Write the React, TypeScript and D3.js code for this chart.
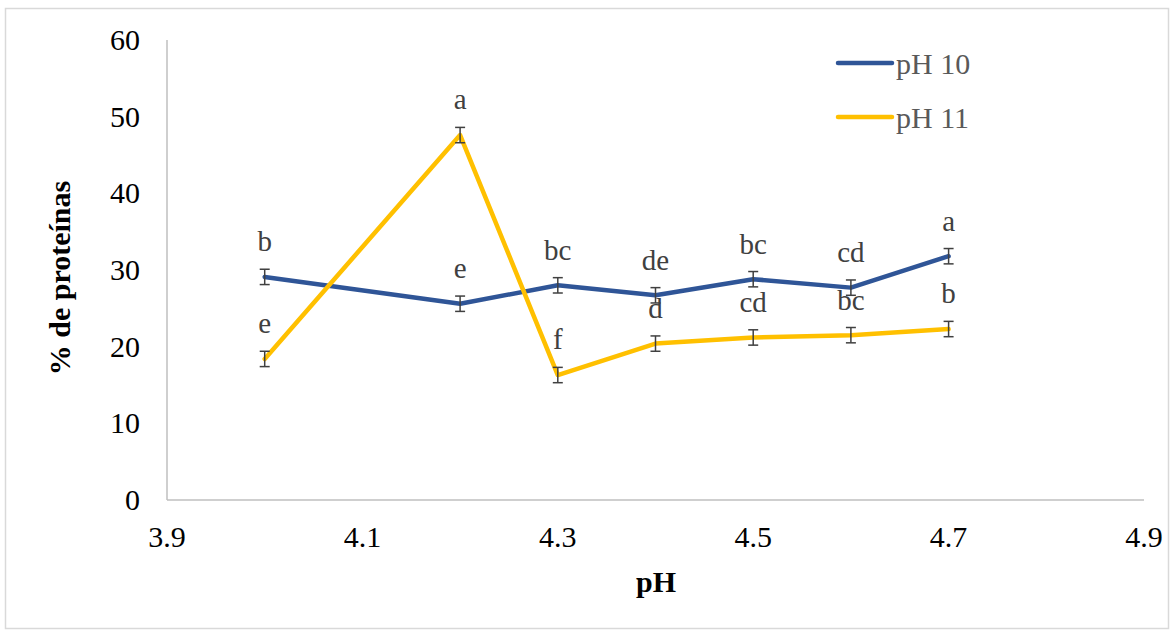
import React, { useRef, useEffect } from "react";
import * as d3 from "d3";

const phValues = [4.0, 4.2, 4.3, 4.4, 4.5, 4.6, 4.7];
const ph10 = [29.1, 25.6, 28.0, 26.7, 28.8, 27.7, 31.8];
const ph10Err = [1.0, 1.0, 1.0, 1.0, 1.0, 1.0, 1.0];
const ph10Letters = ["b", "e", "bc", "de", "bc", "cd", "a"];
const ph11 = [18.4, 47.6, 16.3, 20.4, 21.2, 21.5, 22.3];
const ph11Err = [1.0, 1.0, 1.0, 1.0, 1.0, 1.0, 1.0];
const ph11Letters = ["e", "a", "f", "d", "cd", "bc", "b"];
const xTicks = [3.9, 4.1, 4.3, 4.5, 4.7, 4.9];
const yTicks = [0, 10, 20, 30, 40, 50, 60];
const seriesNames = ["pH 10", "pH 11"];

const W = 1174;
const H = 632;
const layout = { left: 167, right: 1144, top: 40, bottom: 500 };
const colors = ["#2F5597", "#FFC000"];
const font = "'Liberation Serif', 'Times New Roman', serif";

export default function App() {
  const ref = useRef<SVGSVGElement>(null);

  useEffect(() => {
    const svg = d3.select(ref.current);
    svg.selectAll("*").remove();

    const x = d3.scaleLinear().domain([3.9, 4.9]).range([layout.left, layout.right]);
    const y = d3.scaleLinear().domain([0, 60]).range([layout.bottom, layout.top]);

    // outer frame
    svg.append("rect")
      .attr("x", 5.5).attr("y", 8.5)
      .attr("width", 1163).attr("height", 620)
      .attr("fill", "white").attr("stroke", "#d9d9d9").attr("stroke-width", 1.5);

    // axes
    svg.append("line")
      .attr("x1", layout.left).attr("x2", layout.left)
      .attr("y1", layout.top).attr("y2", layout.bottom)
      .attr("stroke", "#bfbfbf").attr("stroke-width", 1.5);
    svg.append("line")
      .attr("x1", layout.left).attr("x2", layout.right)
      .attr("y1", layout.bottom).attr("y2", layout.bottom)
      .attr("stroke", "#bfbfbf").attr("stroke-width", 1.5);

    svg.selectAll(".ytick")
      .data(yTicks)
      .join("text")
      .attr("class", "ytick")
      .attr("x", 140)
      .attr("y", d => y(d) + 10)
      .attr("text-anchor", "end")
      .attr("font-family", font).attr("font-size", 30)
      .attr("fill", "#000")
      .text(d => d);

    svg.selectAll(".xtick")
      .data(xTicks)
      .join("text")
      .attr("class", "xtick")
      .attr("x", d => x(d))
      .attr("y", 547)
      .attr("text-anchor", "middle")
      .attr("font-family", font).attr("font-size", 30)
      .attr("fill", "#000")
      .text(d => d.toFixed(1));

    svg.append("text")
      .attr("transform", "translate(70,278) rotate(-90)")
      .attr("text-anchor", "middle")
      .attr("font-family", font).attr("font-size", 30).attr("font-weight", "bold")
      .text("% de proteínas");

    svg.append("text")
      .attr("x", 656).attr("y", 592)
      .attr("text-anchor", "middle")
      .attr("font-family", font).attr("font-size", 30).attr("font-weight", "bold")
      .text("pH");

    const series = [
      { vals: ph10, err: ph10Err, letters: ph10Letters },
      { vals: ph11, err: ph11Err, letters: ph11Letters },
    ];

    const line = d3.line<number>()
      .x((d, i) => x(phValues[i]))
      .y(d => y(d));

    series.forEach((s, si) => {
      const g = svg.append("g");
      const pts = s.vals.map((v, i) => ({ x: phValues[i], v, e: s.err[i], l: s.letters[i] }));

      g.append("path")
        .datum(s.vals)
        .attr("d", line)
        .attr("fill", "none")
        .attr("stroke", colors[si])
        .attr("stroke-width", 4.5)
        .attr("stroke-linejoin", "round")
        .attr("stroke-linecap", "round");

      const eb = g.selectAll(".eb").data(pts).join("g").attr("class", "eb");
      eb.append("line")
        .attr("x1", d => x(d.x)).attr("x2", d => x(d.x))
        .attr("y1", d => y(d.v - d.e)).attr("y2", d => y(d.v + d.e))
        .attr("stroke", "#404040").attr("stroke-width", 1.5);
      eb.append("line")
        .attr("x1", d => x(d.x) - 5).attr("x2", d => x(d.x) + 5)
        .attr("y1", d => y(d.v - d.e)).attr("y2", d => y(d.v - d.e))
        .attr("stroke", "#404040").attr("stroke-width", 1.5);
      eb.append("line")
        .attr("x1", d => x(d.x) - 5).attr("x2", d => x(d.x) + 5)
        .attr("y1", d => y(d.v + d.e)).attr("y2", d => y(d.v + d.e))
        .attr("stroke", "#404040").attr("stroke-width", 1.5);

      g.selectAll(".lbl").data(pts).join("text")
        .attr("class", "lbl")
        .attr("x", d => x(d.x))
        .attr("y", d => y(d.v + d.e) - 18)
        .attr("text-anchor", "middle")
        .attr("font-family", font).attr("font-size", 29)
        .attr("fill", "#404040")
        .text(d => d.l);
    });

    // legend
    const legend = svg.append("g");
    seriesNames.forEach((name, i) => {
      const ly = 63 + i * 54;
      legend.append("line")
        .attr("x1", 838).attr("x2", 892)
        .attr("y1", ly).attr("y2", ly)
        .attr("stroke", colors[i]).attr("stroke-width", 4.5)
        .attr("stroke-linecap", "round");
      legend.append("text")
        .attr("x", 896).attr("y", ly + 11)
        .attr("font-family", font).attr("font-size", 30)
        .attr("fill", "#595959")
        .text(name);
    });
  }, []);

  return (
    <div>
      <style>{`body{margin:0}`}</style>
      <svg ref={ref} width={W} height={H} style={{ display: "block" }} />
    </div>
  );
}
